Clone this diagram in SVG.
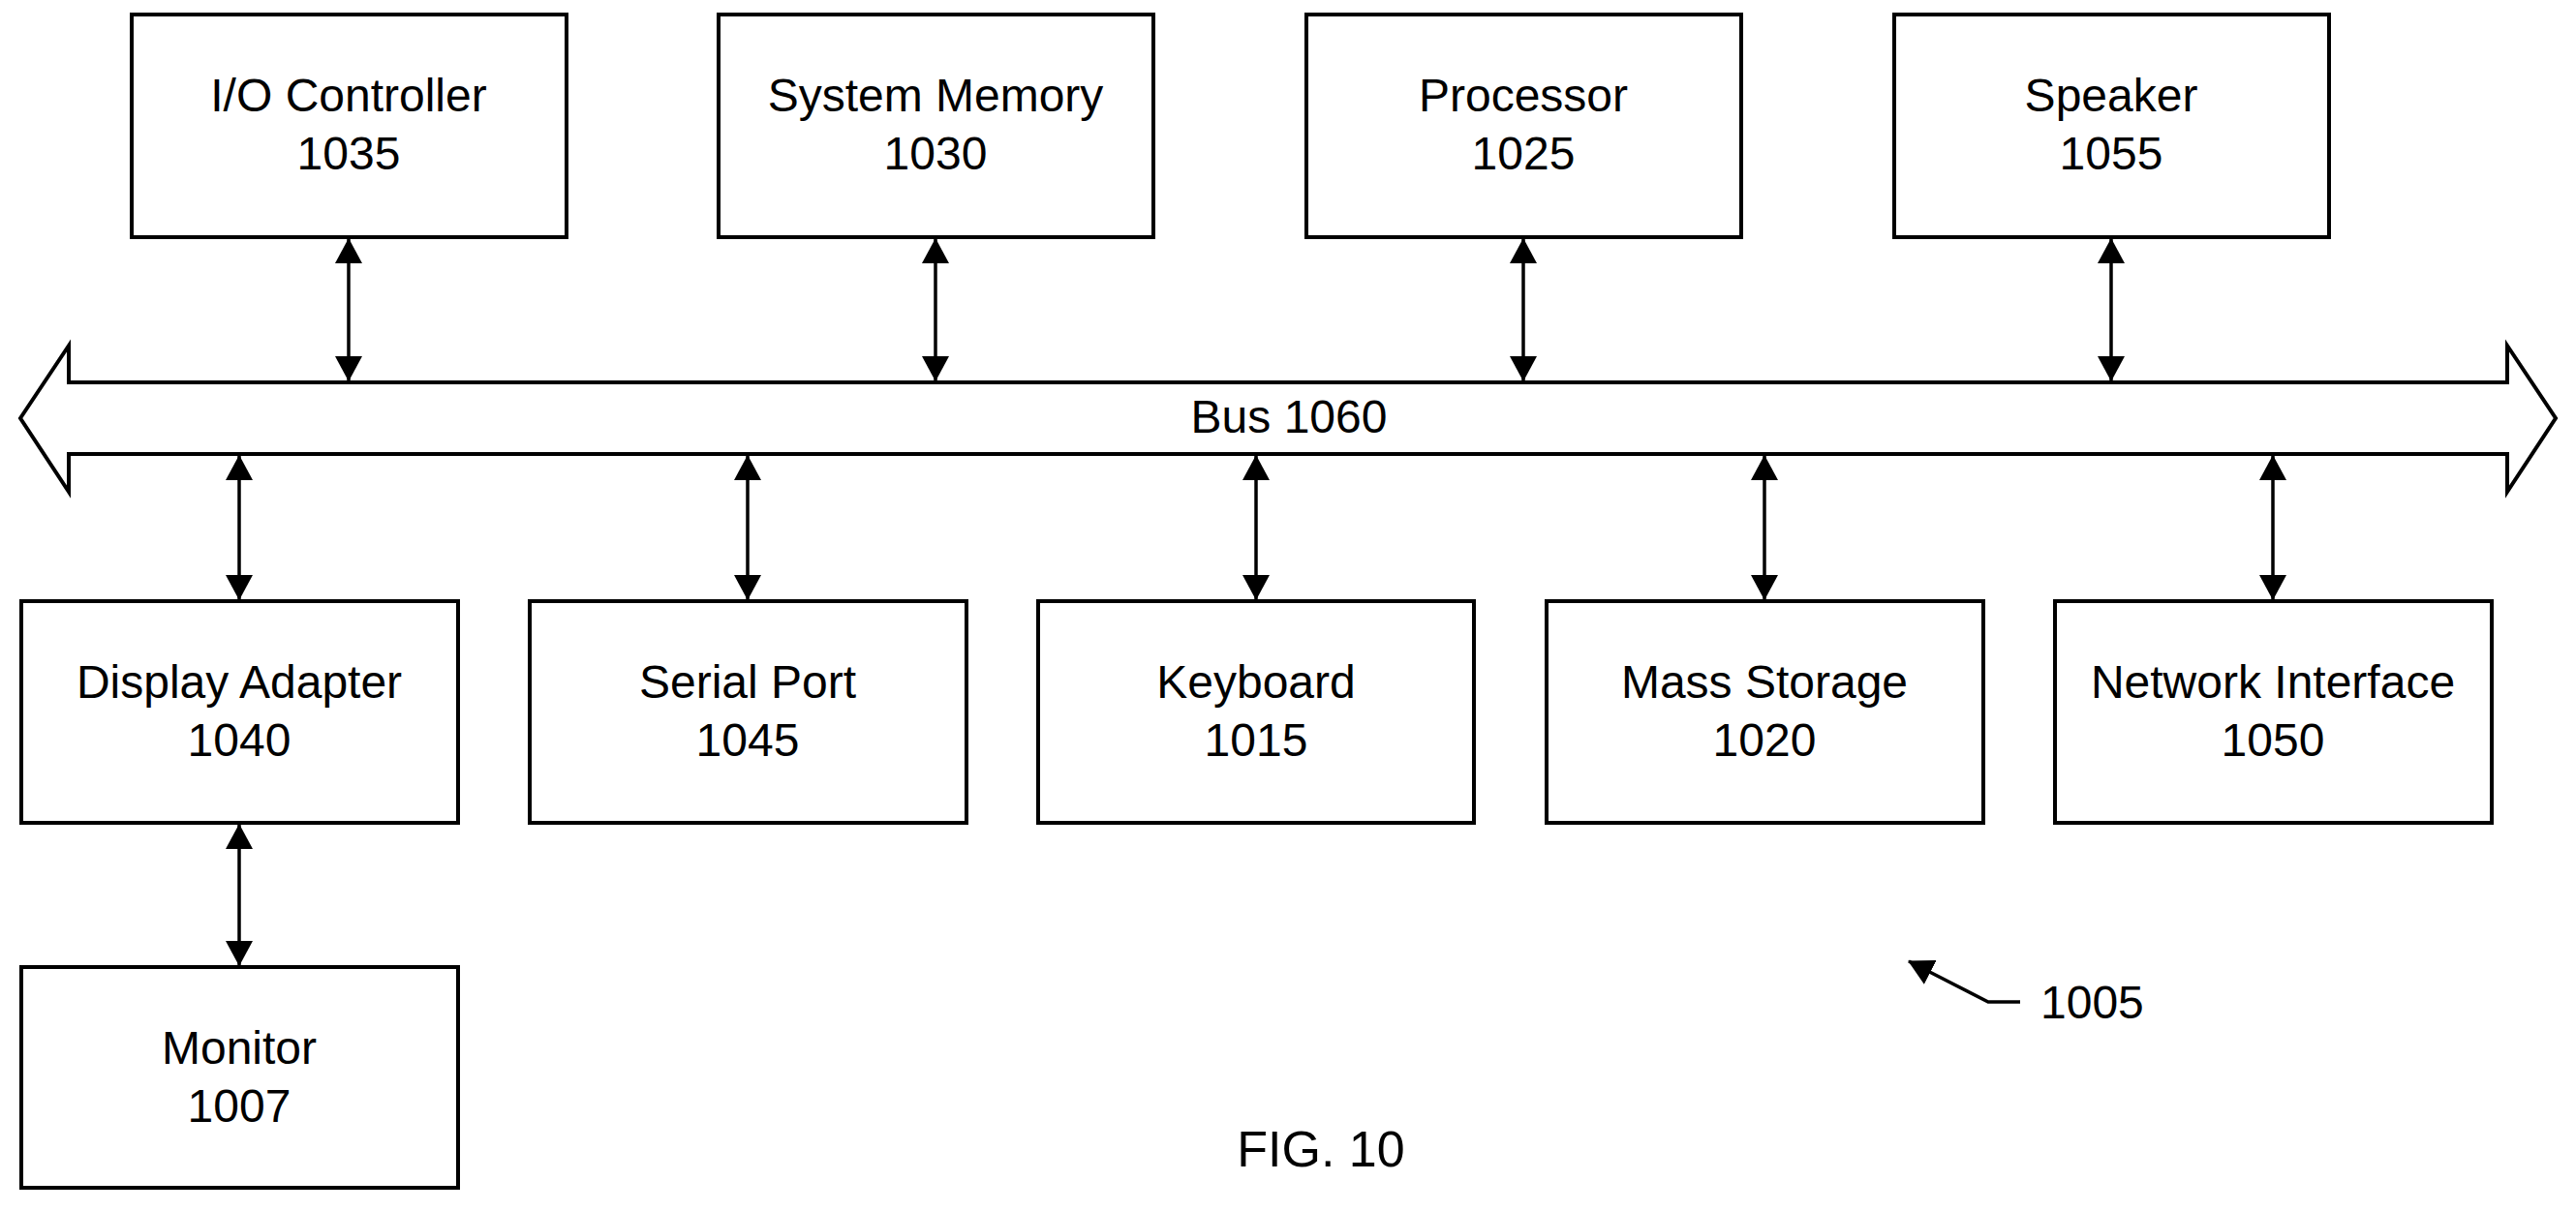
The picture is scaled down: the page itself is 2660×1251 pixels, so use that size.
<svg xmlns="http://www.w3.org/2000/svg" width="2660" height="1251" viewBox="0 0 2660 1251">
<style>
.b{fill:#fff;stroke:#000;stroke-width:4}
.t{font-family:"Liberation Sans",Arial,sans-serif;font-size:48px;text-anchor:middle;fill:#000}
.c{stroke:#000;stroke-width:3.5;fill:none;marker-start:url(#a);marker-end:url(#a)}
</style>
<defs>
<marker id="a" markerUnits="userSpaceOnUse" viewBox="0 0 26 28" refX="25" refY="14" markerWidth="26" markerHeight="28" orient="auto-start-reverse"><path d="M0,0 L26,14 L0,28 Z" fill="#000"/></marker>
</defs>
<rect width="2660" height="1251" fill="#fff"/>
<g id="bus"><path class="b" d="M21,432 L71,357 L71,395 L2589,395 L2589,357 L2639,432 L2589,508 L2589,469 L71,469 L71,508 Z"/><text class="t" x="1331" y="447">Bus 1060</text></g>
<g id="io"><rect class="b" x="136" y="15" width="449" height="230"/><text class="t" x="360" y="115">I/O Controller</text><text class="t" x="360" y="175">1035</text></g>
<g id="mem"><rect class="b" x="742" y="15" width="449" height="230"/><text class="t" x="966" y="115">System Memory</text><text class="t" x="966" y="175">1030</text></g>
<g id="proc"><rect class="b" x="1349" y="15" width="449" height="230"/><text class="t" x="1573" y="115">Processor</text><text class="t" x="1573" y="175">1025</text></g>
<g id="spk"><rect class="b" x="1956" y="15" width="449" height="230"/><text class="t" x="2180" y="115">Speaker</text><text class="t" x="2180" y="175">1055</text></g>
<g id="disp"><rect class="b" x="22" y="621" width="451" height="229"/><text class="t" x="247" y="721">Display Adapter</text><text class="t" x="247" y="781">1040</text></g>
<g id="ser"><rect class="b" x="547" y="621" width="451" height="229"/><text class="t" x="772" y="721">Serial Port</text><text class="t" x="772" y="781">1045</text></g>
<g id="kbd"><rect class="b" x="1072" y="621" width="450" height="229"/><text class="t" x="1297" y="721">Keyboard</text><text class="t" x="1297" y="781">1015</text></g>
<g id="mass"><rect class="b" x="1597" y="621" width="451" height="229"/><text class="t" x="1822" y="721">Mass Storage</text><text class="t" x="1822" y="781">1020</text></g>
<g id="net"><rect class="b" x="2122" y="621" width="451" height="229"/><text class="t" x="2347" y="721">Network Interface</text><text class="t" x="2347" y="781">1050</text></g>
<g id="mon"><rect class="b" x="22" y="999" width="451" height="228"/><text class="t" x="247" y="1099">Monitor</text><text class="t" x="247" y="1159">1007</text></g>
<g id="connectors">
<path class="c" d="M360,247 V393"/>
<path class="c" d="M966,247 V393"/>
<path class="c" d="M1573,247 V393"/>
<path class="c" d="M2180,247 V393"/>
<path class="c" d="M247,471 V619"/>
<path class="c" d="M772,471 V619"/>
<path class="c" d="M1297,471 V619"/>
<path class="c" d="M1822,471 V619"/>
<path class="c" d="M2347,471 V619"/>
<path class="c" d="M247,852 V997"/>
</g>
<g id="ref"><path d="M2086,1035 H2053 L1971,993" stroke="#000" stroke-width="3.5" fill="none" marker-end="url(#a)"/><text class="t" x="2107" y="1052" style="text-anchor:start">1005</text></g>
<text class="t" x="1364" y="1205" style="font-size:52px">FIG. 10</text>
</svg>
